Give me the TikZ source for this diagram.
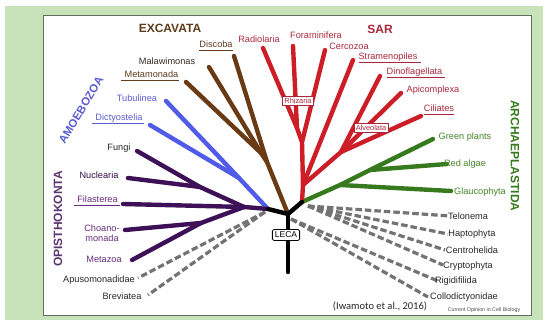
\documentclass[tikz,border=0pt]{standalone}
\usepackage{fontspec}
\setmainfont{Liberation Sans}
\newfontfamily\citefont{Carlito}
\definecolor{bggreen}{RGB}{200,226,186}
\definecolor{panelborder}{RGB}{95,110,95}
\definecolor{brn}{RGB}{105,58,20}
\definecolor{brntxt}{RGB}{95,60,30}
\definecolor{redb}{RGB}{205,30,40}
\definecolor{redtxt}{RGB}{170,40,60}
\definecolor{blueb}{RGB}{80,92,232}
\definecolor{bluetxt}{RGB}{90,92,210}
\definecolor{purb}{RGB}{62,16,88}
\definecolor{purtxt}{RGB}{105,45,125}
\definecolor{grnb}{RGB}{55,122,30}
\definecolor{grntxt}{RGB}{70,135,40}
\definecolor{dgrey}{RGB}{115,115,115}
\definecolor{txtgrey}{RGB}{40,40,40}
\newcommand{\myul}[1]{\underline{\vphantom{p}#1}}
\begin{document}
\begin{tikzpicture}[x=1pt,y=-1pt,
  branch/.style={line width=4.4pt, line cap=round, line join=round},
  dashbr/.style={line width=3.2pt, draw=dgrey, dash pattern=on 6.5pt off 3pt},
  lbl/.style={font=\fontsize{9.2}{10.5}\selectfont, inner sep=0pt},
  grp/.style={font=\bfseries\fontsize{12}{13}\selectfont, inner sep=0pt},
  tagbox/.style={draw=redtxt, fill=white, text=redtxt, line width=0.6pt, font=\fontsize{7.4}{8}\selectfont, inner sep=1.8pt},
  lecabox/.style={draw=black, fill=white, text=black, line width=0.8pt, rounded corners=1.5pt, font=\fontsize{8.5}{9}\selectfont, inner xsep=2.5pt, inner ysep=2.5pt}
]
\useasboundingbox (0,0) rectangle (558,320);
\fill[white] (0,0) rectangle (558,320);
\fill[bggreen] (5,6) rectangle (543,320);
\draw[fill=white, draw=panelborder, line width=0.8pt] (43,15) rectangle (531,315);

% junctions
\coordinate (C) at (288,214);
\coordinate (Lj) at (268,209);
\coordinate (Rj) at (302,202);
\coordinate (rootb) at (288,272);
% excavata
\coordinate (b1) at (267,162);
\coordinate (b2) at (261,153);
\coordinate (tDiscoba) at (234,56);
\coordinate (tMalaw) at (209,67);
\coordinate (tMeta) at (186,82);
% amoebozoa
\coordinate (bl1) at (239,178);
\coordinate (tTub) at (166,101);
\coordinate (tDict) at (150,125);
% opisthokonta
\coordinate (P) at (244,207);
\coordinate (m1) at (200,187);
\coordinate (m2) at (201,223);
\coordinate (tFungi) at (137,151);
\coordinate (tNuc) at (128,178);
\coordinate (tFil) at (123,204);
\coordinate (tCho) at (125,230);
\coordinate (tMetaz) at (132,260);
% left dashed
\coordinate (dl) at (265,212);
\coordinate (tApus) at (138,278);
\coordinate (tBrev) at (148,295);
% SAR
\coordinate (RZ) at (302,142);
\coordinate (f1) at (297,128);
\coordinate (tRadio) at (263,48);
\coordinate (tForam) at (293,46);
\coordinate (tCerco) at (325,50);
\coordinate (s1) at (303,185);
\coordinate (tStram) at (353,60);
\coordinate (A) at (341,152);
\coordinate (tDino) at (380,76);
\coordinate (tApi) at (401,93);
\coordinate (tCil) at (421,116);
% archaeplastida
\coordinate (g1) at (340,185);
\coordinate (g2) at (370,170);
\coordinate (tGP) at (433,139);
\coordinate (tRA) at (447,164);
\coordinate (tGL) at (451,191);
% right dashed
\coordinate (dr1) at (308,206);
\coordinate (dr2) at (291,219);
\coordinate (tTel) at (450,216);
\coordinate (tHap) at (448,234);
\coordinate (tCen) at (445,250);
\coordinate (tCry) at (443,265);
\coordinate (tRig) at (438,281);
\coordinate (tCol) at (428,297);

% dashed branches
\draw[dashbr] (dl) -- (tApus);
\draw[dashbr] (dl) -- (tBrev);
\draw[dashbr] (dr1) -- (tTel);
\draw[dashbr] (dr1) -- (tHap);
\draw[dashbr] (dr1) -- (tCen);
\draw[dashbr] (dr1) -- (tCry);
\draw[dashbr] (dr2) -- (tRig);
\draw[dashbr] (dr2) -- (tCol);

% excavata
\draw[branch, brn] (C) -- (b1) -- (tDiscoba);
\draw[branch, brn] (b1) -- (b2) -- (tMalaw);
\draw[branch, brn] (b2) -- (tMeta);
% amoebozoa
\draw[branch, blueb] (Lj) -- (bl1) -- (tTub);
\draw[branch, blueb] (bl1) -- (tDict);
% opisthokonta
\draw[branch, purb] (Lj) -- (P) -- (m1) -- (tFungi);
\draw[branch, purb] (m1) -- (tNuc);
\draw[branch, purb] (P) -- (tFil);
\draw[branch, purb] (P) -- (m2) -- (tMetaz);
\draw[branch, purb] (m2) -- (tCho);
% archaeplastida
\draw[branch, grnb] (Rj) -- (g1) -- (g2) -- (tGP);
\draw[branch, grnb] (g2) -- (tRA);
\draw[branch, grnb] (g1) -- (tGL);
% SAR
\draw[branch, redb] (Rj) -- (s1) -- (RZ) -- (f1) -- (tRadio);
\draw[branch, redb] (f1) -- (tForam);
\draw[branch, redb] (RZ) -- (tCerco);
\draw[branch, redb] (s1) -- (tStram);
\draw[branch, redb] (s1) -- (A) -- (tDino);
\draw[branch, redb] (A) -- (tApi);
\draw[branch, redb] (A) -- (tCil);
% root
\draw[branch, black] (Lj) -- (C) -- (Rj);
\draw[branch, black] (C) -- (rootb);

% boxes
\node[lecabox] (leca) at (286,235) {LECA};
\node[tagbox] (rhiz) at (298,101) {Rhizaria};
\node[tagbox] (alve) at (371,128) {Alveolata};

% group titles
\node[grp, text=brntxt] (gEx) at (170,28) {EXCAVATA};
\node[grp, text=redtxt] (gSar) at (380,29) {SAR};
\node[grp, text=bluetxt, rotate=59, font=\bfseries\fontsize{11.4}{12}\selectfont] (gAm) at (81,110) {AMOEBOZOA};
\node[grp, text=purb!85!white, rotate=90] (gOp) at (58,219) {OPISTHOKONTA};
\node[grp, text=grnb, rotate=-90] (gAr) at (515,156) {ARCHAEPLASTIDA};

% tip labels
\node[lbl, text=brntxt] (lDiscoba) at (216,46) {\myul{Discoba}};
\node[lbl, text=txtgrey!80!brn] (lMalaw) at (167,61) {Malawimonas};
\node[lbl, text=brntxt] (lMeta) at (150,76) {\myul{\hspace{4pt}Metamonada\hspace{1pt}}};
\node[lbl, text=bluetxt] (lTub) at (137,98) {Tubulinea};
\node[lbl, text=bluetxt] (lDict) at (118,119) {\myul{\hspace{3pt}Dictyostelia\hspace{1pt}}};
\node[lbl, text=txtgrey] (lFungi) at (119,148) {Fungi};
\node[lbl, text=purb!80!black] (lNuc) at (99,175) {Nuclearia};
\node[lbl, text=purtxt] (lFil) at (97,201) {\myul{\hspace{3pt}Filasterea\hspace{2pt}}};
\node[lbl, text=purtxt, align=center] (lCho) at (102,233) {Choano-\\monada};
\node[lbl, text=purtxt] (lMetaz) at (104,259) {Metazoa};
\node[lbl, text=txtgrey] (lApus) at (99,280) {Apusomonadidae};
\node[lbl, text=txtgrey] (lBrev) at (122,296) {Breviatea};

\node[lbl, text=redtxt] (lRadio) at (259,39) {Radiolaria};
\node[lbl, text=redtxt] (lForam) at (316,35) {Foraminifera};
\node[lbl, text=redtxt] (lCerco) at (349,46) {Cercozoa};
\node[lbl, text=redtxt] (lStram) at (390,58) {\myul{Stramenopiles\hspace{4pt}}};
\node[lbl, text=redtxt] (lDino) at (416,73) {\myul{Dinoflagellata\hspace{3pt}}};
\node[lbl, text=redtxt] (lApi) at (433,90) {Apicomplexa};
\node[lbl, text=redtxt] (lCil) at (439,110) {\myul{Ciliates}};

\node[lbl, text=grntxt] (lGP) at (465,137) {Green plants};
\node[lbl, text=grntxt] (lRA) at (465,164) {Red algae};
\node[lbl, text=grntxt] (lGL) at (480,192) {Glaucophyta};

\node[lbl, text=txtgrey] (lTel) at (468,216) {Telonema};
\node[lbl, text=txtgrey] (lHap) at (472,234) {Haptophyta};
\node[lbl, text=txtgrey] (lCen) at (472,250) {Centrohelida};
\node[lbl, text=txtgrey] (lCry) at (468,266) {Cryptophyta};
\node[lbl, text=txtgrey] (lRig) at (456,281) {Rigidifilida};
\node[lbl, text=txtgrey] (lCol) at (464,297) {Collodictyonidae};

\node[inner sep=0pt, font=\citefont\fontsize{10.5}{12}\selectfont, text=black!85] (cite) at (380,306) {(Iwamoto et al., 2016)};
\node[inner sep=0pt, font=\fontsize{5.3}{6}\selectfont, text=black!70] (journal) at (484,310) {Current Opinion in Cell Biology};
\end{tikzpicture}
\end{document}
